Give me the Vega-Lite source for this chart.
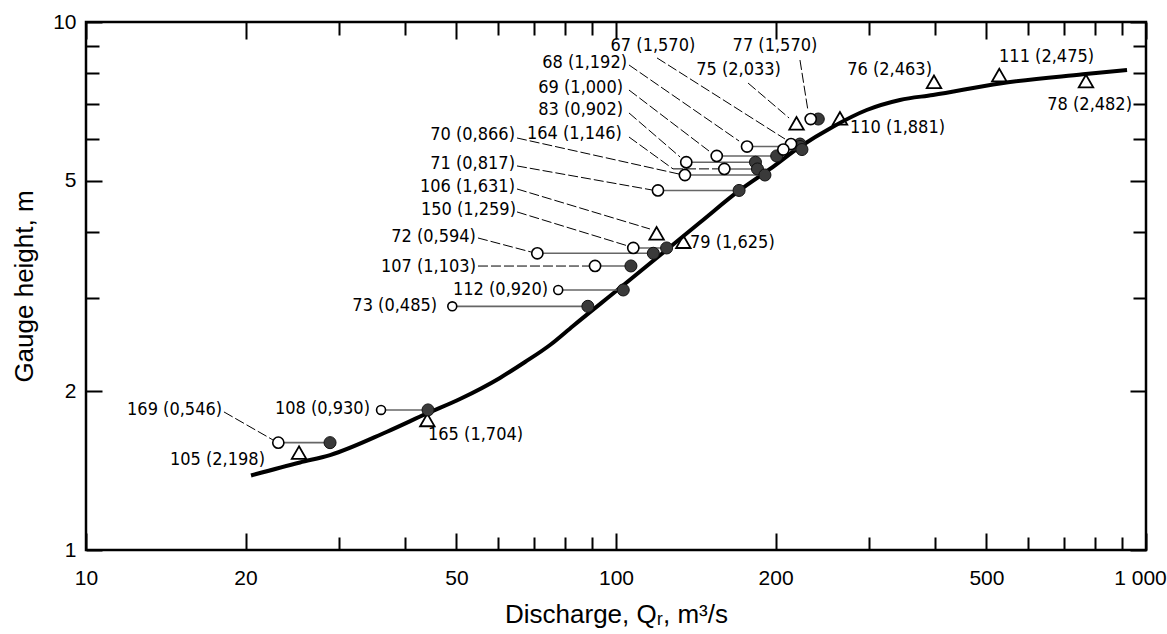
{
  "$schema": "https://vega.github.io/schema/vega-lite/v6.json",
  "width": 1060,
  "height": 528,
  "autosize": {"type": "none"},
  "padding": {"left": 86, "top": 22, "right": 21, "bottom": 84},
  "background": "white",
  "config": {
    "view": {"stroke": "black", "strokeWidth": 2.5},
    "text": {"font": "DejaVu Sans Condensed", "fontSize": 18, "color": "black"}
  },
  "datasets": {
    "curve": [
      {"q": 20.48, "h": 1.384}, {"q": 25.34, "h": 1.465}, {"q": 28.87, "h": 1.513},
      {"q": 36.98, "h": 1.675}, {"q": 44.0, "h": 1.814}, {"q": 50.77, "h": 1.932},
      {"q": 60.4, "h": 2.118}, {"q": 67.35, "h": 2.27}, {"q": 75.08, "h": 2.445},
      {"q": 82.97, "h": 2.657}, {"q": 101.7, "h": 3.135}, {"q": 144.0, "h": 4.17},
      {"q": 171.4, "h": 4.807}, {"q": 195.3, "h": 5.268}, {"q": 222.4, "h": 5.804},
      {"q": 256.7, "h": 6.336}, {"q": 297.2, "h": 6.813}, {"q": 343.4, "h": 7.118},
      {"q": 396.3, "h": 7.274}, {"q": 530.3, "h": 7.651}, {"q": 760.4, "h": 7.96},
      {"q": 920.9, "h": 8.114}
    ],
    "pairs": [
      {"id": "67", "q_open": 213.9, "q_fill": 222.4, "h": 5.873},
      {"id": "68", "q_open": 176.7, "q_fill": 222.4, "h": 5.81},
      {"id": "", "q_open": 206.9, "q_fill": 224.3, "h": 5.734},
      {"id": "69", "q_open": 154.9, "q_fill": 201.0, "h": 5.576},
      {"id": "83", "q_open": 135.7, "q_fill": 183.3, "h": 5.425},
      {"id": "164", "q_open": 160.1, "q_fill": 184.9, "h": 5.268},
      {"id": "70", "q_open": 134.9, "q_fill": 191.0, "h": 5.131},
      {"id": "71", "q_open": 120.0, "q_fill": 170.7, "h": 4.797},
      {"id": "150", "q_open": 107.8, "q_fill": 124.6, "h": 3.733},
      {"id": "72", "q_open": 71.05, "q_fill": 117.6, "h": 3.647},
      {"id": "107", "q_open": 91.3, "q_fill": 106.7, "h": 3.451},
      {"id": "112", "q_open": 77.8, "q_fill": 103.2, "h": 3.108},
      {"id": "73", "q_open": 49.1, "q_fill": 88.5, "h": 2.894},
      {"id": "169", "q_open": 23.06, "q_fill": 28.87, "h": 1.597},
      {"id": "108", "q_open": 36.03, "q_fill": 44.19, "h": 1.842},
      {"id": "77", "q_open": 233.0, "q_fill": 240.8, "h": 6.55}
    ],
    "triangles": [
      {"id": "75", "q": 219.1, "h": 6.43},
      {"id": "110", "q": 264.6, "h": 6.572},
      {"id": "76", "q": 398.1, "h": 7.705},
      {"id": "111", "q": 528.7, "h": 7.936},
      {"id": "78", "q": 770.5, "h": 7.73},
      {"id": "106", "q": 119.3, "h": 3.979},
      {"id": "79", "q": 134.0, "h": 3.836},
      {"id": "165", "q": 44.06, "h": 1.763},
      {"id": "105", "q": 25.23, "h": 1.529}
    ],
    "leaders": [
      {"id": "67", "q1": 119.5, "h1": 8.55, "q2": 208.4, "h2": 6.003},
      {"id": "77", "q1": 222.4, "h1": 8.472, "q2": 230.3, "h2": 6.784},
      {"id": "75", "q1": 177.5, "h1": 7.662, "q2": 212.1, "h2": 6.579},
      {"id": "68", "q1": 105.8, "h1": 8.291, "q2": 170.7, "h2": 5.951},
      {"id": "69", "q1": 105.8, "h1": 7.433, "q2": 149.8, "h2": 5.697},
      {"id": "83", "q1": 105.8, "h1": 6.726, "q2": 132.1, "h2": 5.551},
      {"id": "164", "q1": 105.8, "h1": 6.056, "q2": 128.1, "h2": 5.27},
      {"id": "164", "q1": 128.1, "h1": 5.27, "q2": 155.8, "h2": 5.27},
      {"id": "70", "q1": 65.04, "h1": 6.03, "q2": 131.5, "h2": 5.153},
      {"id": "71", "q1": 65.04, "h1": 5.338, "q2": 116.9, "h2": 4.807},
      {"id": "106", "q1": 65.04, "h1": 4.828, "q2": 115.9, "h2": 4.055},
      {"id": "150", "q1": 65.04, "h1": 4.368, "q2": 105.3, "h2": 3.766},
      {"id": "72", "q1": 54.9, "h1": 3.899, "q2": 69.12, "h2": 3.668},
      {"id": "107", "q1": 54.9, "h1": 3.45, "q2": 88.95, "h2": 3.45},
      {"id": "169", "q1": 18.21, "h1": 1.826, "q2": 22.53, "h2": 1.616}
    ],
    "labels_right": [
      {"text": "68 (1,192)", "q": 104.9, "h": 8.362},
      {"text": "69 (1,000)", "q": 103.1, "h": 7.499},
      {"text": "83 (0,902)", "q": 103.1, "h": 6.813},
      {"text": "164 (1,146)", "q": 102.6, "h": 6.136},
      {"text": "70 (0,866)", "q": 64.48, "h": 6.109},
      {"text": "71 (0,817)", "q": 64.48, "h": 5.384},
      {"text": "106 (1,631)", "q": 64.48, "h": 4.87},
      {"text": "150 (1,259)", "q": 64.76, "h": 4.405},
      {"text": "72 (0,594)", "q": 54.42, "h": 3.916},
      {"text": "107 (1,103)", "q": 54.42, "h": 3.43},
      {"text": "112 (0,920)", "q": 74.43, "h": 3.108},
      {"text": "73 (0,485)", "q": 45.96, "h": 2.898},
      {"text": "169 (0,546)", "q": 18.06, "h": 1.842},
      {"text": "105 (2,198)", "q": 21.76, "h": 1.481},
      {"text": "108 (0,930)", "q": 34.34, "h": 1.849},
      {"text": "76 (2,463)", "q": 394.6, "h": 8.114},
      {"text": "78 (2,482)", "q": 941.0, "h": 6.965}
    ],
    "labels_left": [
      {"text": "79 (1,625)", "q": 137.9, "h": 3.815},
      {"text": "165 (1,704)", "q": 44.19, "h": 1.651},
      {"text": "110 (1,881)", "q": 276.4, "h": 6.3},
      {"text": "111 (2,475)", "q": 528.1, "h": 8.585}
    ],
    "labels_center": [
      {"text": "67 (1,570)", "q": 117.4, "h": 9.006},
      {"text": "77 (1,570)", "q": 199.5, "h": 9.006},
      {"text": "75 (2,033)", "q": 170.3, "h": 8.114}
    ]
  },
  "layer": [
    {
      "data": {"name": "curve"},
      "mark": {"type": "line", "color": "black", "strokeWidth": 4, "interpolate": "monotone"},
      "encoding": {
        "x": {
          "field": "q", "type": "quantitative",
          "scale": {"type": "log", "domain": [10, 1000], "nice": false},
          "axis": {
            "title": "Discharge, Qᵣ, m³/s",
            "values": [10, 20, 30, 40, 50, 60, 70, 80, 90, 100, 200, 300, 400, 500, 600, 700, 800, 900, 1000],
            "format": "d",
            "labelExpr": "datum.value == 1000 ? '1 000' : (indexof([10, 20, 50, 100, 200, 500], datum.value) >= 0 ? datum.label : '')",
            "domain": false, "ticks": false,
            "grid": true, "gridColor": "black", "gridWidth": 2, "gridOpacity": 1,
            "gridDash": {"condition": {"test": "indexof([10, 20, 50, 100, 200, 500, 1000], datum.value) >= 0", "value": [17, 494, 17]}, "value": [13, 502, 13]},
            "labelFont": "Liberation Sans", "labelFontSize": 21, "labelColor": "black",
            "labelOffset": {"condition": {"test": "datum.value == 1000", "value": -6}, "value": 0},
            "labelPadding": 17, "labelFlush": false, "labelOverlap": false, "labelBound": false,
            "titleFont": "Liberation Sans", "titleFontSize": 26, "titleFontWeight": "normal", "titleColor": "black", "titlePadding": 13
          }
        },
        "y": {
          "field": "h", "type": "quantitative",
          "scale": {"type": "log", "domain": [1, 10], "nice": false},
          "axis": {
            "title": "Gauge height, m",
            "values": [1, 2, 3, 4, 5, 6, 7, 8, 9, 10],
            "format": "d",
            "labelExpr": "indexof([1, 2, 5, 10], datum.value) >= 0 ? datum.label : ''",
            "domain": false, "ticks": false,
            "grid": true, "gridColor": "black", "gridWidth": 2, "gridOpacity": 1,
            "gridDash": {"condition": {"test": "indexof([1, 2, 5, 10], datum.value) >= 0", "value": [16, 1028, 16]}, "value": [13, 1034, 13]},
            "labelFont": "Liberation Sans", "labelFontSize": 21, "labelColor": "black",
            "labelPadding": 10, "labelFlush": false, "labelOverlap": false, "labelBound": false,
            "titleFont": "Liberation Sans", "titleFontSize": 26, "titleFontWeight": "normal", "titleColor": "black", "titlePadding": 15
          }
        }
      }
    },
    {
      "data": {"name": "pairs"},
      "mark": {"type": "rule", "color": "#666666", "strokeWidth": 1.6},
      "encoding": {
        "x": {"field": "q_open", "type": "quantitative", "scale": {"type": "log", "domain": [10, 1000], "nice": false}},
        "x2": {"field": "q_fill"},
        "y": {"field": "h", "type": "quantitative", "scale": {"type": "log", "domain": [1, 10], "nice": false}}
      }
    },
    {
      "data": {"name": "leaders"},
      "mark": {"type": "rule", "color": "black", "strokeWidth": 1, "strokeDash": [10, 3]},
      "encoding": {
        "x": {"field": "q1", "type": "quantitative", "scale": {"type": "log", "domain": [10, 1000], "nice": false}},
        "x2": {"field": "q2"},
        "y": {"field": "h1", "type": "quantitative", "scale": {"type": "log", "domain": [1, 10], "nice": false}},
        "y2": {"field": "h2"}
      }
    },
    {
      "data": {"name": "triangles"},
      "mark": {"type": "point", "shape": "triangle-up", "filled": false, "stroke": "black", "strokeWidth": 1.8, "size": 210, "opacity": 1},
      "encoding": {
        "x": {"field": "q", "type": "quantitative", "scale": {"type": "log", "domain": [10, 1000], "nice": false}},
        "y": {"field": "h", "type": "quantitative", "scale": {"type": "log", "domain": [1, 10], "nice": false}}
      }
    },
    {
      "data": {"name": "pairs"},
      "mark": {"type": "point", "shape": "circle", "filled": true, "fill": "#3a3a3a", "stroke": "#111111", "strokeWidth": 1, "size": 145, "opacity": 1},
      "encoding": {
        "x": {"field": "q_fill", "type": "quantitative", "scale": {"type": "log", "domain": [10, 1000], "nice": false}},
        "y": {"field": "h", "type": "quantitative", "scale": {"type": "log", "domain": [1, 10], "nice": false}}
      }
    },
    {
      "data": {"name": "pairs"},
      "transform": [{"filter": "indexof(['108', '112', '73'], datum.id) < 0"}],
      "mark": {"type": "point", "shape": "circle", "filled": true, "fill": "white", "stroke": "black", "strokeWidth": 1.6, "size": 125, "opacity": 1},
      "encoding": {
        "x": {"field": "q_open", "type": "quantitative", "scale": {"type": "log", "domain": [10, 1000], "nice": false}},
        "y": {"field": "h", "type": "quantitative", "scale": {"type": "log", "domain": [1, 10], "nice": false}}
      }
    },
    {
      "data": {"name": "pairs"},
      "transform": [{"filter": "indexof(['108', '112', '73'], datum.id) >= 0"}],
      "mark": {"type": "point", "shape": "circle", "filled": true, "fill": "white", "stroke": "black", "strokeWidth": 1.6, "size": 80, "opacity": 1},
      "encoding": {
        "x": {"field": "q_open", "type": "quantitative", "scale": {"type": "log", "domain": [10, 1000], "nice": false}},
        "y": {"field": "h", "type": "quantitative", "scale": {"type": "log", "domain": [1, 10], "nice": false}}
      }
    },
    {
      "data": {"name": "labels_right"},
      "mark": {"type": "text", "align": "right", "baseline": "middle"},
      "encoding": {
        "x": {"field": "q", "type": "quantitative", "scale": {"type": "log", "domain": [10, 1000], "nice": false}},
        "y": {"field": "h", "type": "quantitative", "scale": {"type": "log", "domain": [1, 10], "nice": false}},
        "text": {"field": "text"}
      }
    },
    {
      "data": {"name": "labels_left"},
      "mark": {"type": "text", "align": "left", "baseline": "middle"},
      "encoding": {
        "x": {"field": "q", "type": "quantitative", "scale": {"type": "log", "domain": [10, 1000], "nice": false}},
        "y": {"field": "h", "type": "quantitative", "scale": {"type": "log", "domain": [1, 10], "nice": false}},
        "text": {"field": "text"}
      }
    },
    {
      "data": {"name": "labels_center"},
      "mark": {"type": "text", "align": "center", "baseline": "middle"},
      "encoding": {
        "x": {"field": "q", "type": "quantitative", "scale": {"type": "log", "domain": [10, 1000], "nice": false}},
        "y": {"field": "h", "type": "quantitative", "scale": {"type": "log", "domain": [1, 10], "nice": false}},
        "text": {"field": "text"}
      }
    }
  ]
}
